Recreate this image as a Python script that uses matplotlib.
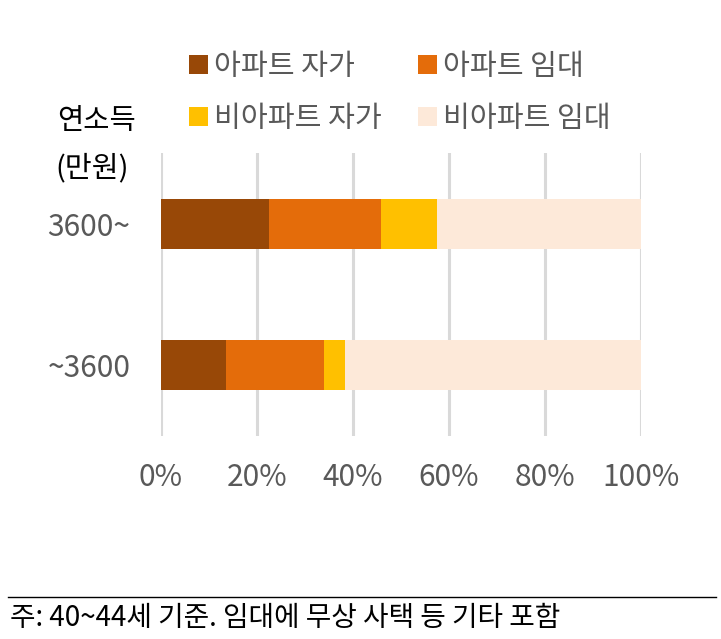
import matplotlib
matplotlib.use("Agg")
import matplotlib.pyplot as plt
from matplotlib.lines import Line2D

plt.rcParams['font.family'] = ['Noto Sans CJK KR', 'DejaVu Sans']

# data (share, %)
groups = ['3600~', '~3600']
series = ['아파트 자가', '아파트 임대', '비아파트 자가', '비아파트 임대']
apt_own = [22.6, 13.6]
apt_rent = [23.3, 20.4]
nonapt_own = [11.7, 4.3]
nonapt_rent = [42.4, 61.7]
colors = ['#984807', '#E46C0A', '#FFC000', '#FDE9D9']
xticks = [0, 20, 40, 60, 80, 100]
xtick_labels = ['0%', '20%', '40%', '60%', '80%', '100%']

fig = plt.figure(figsize=(7.21, 6.39), dpi=100)
ax = fig.add_axes([161 / 721, 1 - 436 / 639, 480 / 721, 283 / 639])

ypos = [0, 1]
left = [0, 0]
bars = []
for name, vals, c in zip(series, [apt_own, apt_rent, nonapt_own, nonapt_rent], colors):
    b = ax.barh(ypos, vals, left=left, height=0.355, color=c, label=name, zorder=3)
    bars.append(b)
    left = [l + v for l, v in zip(left, vals)]

ax.set_xlim(0, 100)
ax.set_ylim(1.5, -0.5)
ax.set_xticks(xticks)
ax.set_xticklabels(xtick_labels)
ax.set_yticks(ypos)
ax.set_yticklabels(groups)
ax.tick_params(axis='both', length=0, labelsize=21.5, colors='#595959')
ax.tick_params(axis='x', pad=19)
ax.tick_params(axis='y', pad=22)
ax.grid(axis='x', color='#D9D9D9', linewidth=2.2, zorder=0)
for s in ax.spines.values():
    s.set_visible(False)

# legend filled row by row
order = [0, 2, 1, 3]
fig.legend([bars[i] for i in order], [series[i] for i in order],
           ncol=2, loc='upper left', bbox_to_anchor=(189 / 721, 1 - 52 / 639),
           frameon=False, fontsize=21, handlelength=0.65, handleheight=0.65,
           handletextpad=0.2, columnspacing=1.25, labelspacing=0.75,
           borderpad=0, borderaxespad=0, labelcolor='#595959')

fig.text(57 / 721, 1 - 121 / 639, '연소득', fontsize=20.5, color='black', va='center')
fig.text(55 / 721, 1 - 168 / 639, '(만원)', fontsize=21, color='black', va='center')

fig.add_artist(Line2D([8 / 721, 716 / 721], [1 - 597 / 639, 1 - 597 / 639],
                      color='black', linewidth=1))
fig.text(10 / 721, 1 - 618 / 639, '주: 40~44세 기준. 임대에 무상 사택 등 기타 포함',
         fontsize=20, color='black', va='center')

fig.savefig('out.png', dpi=100, facecolor='white')
